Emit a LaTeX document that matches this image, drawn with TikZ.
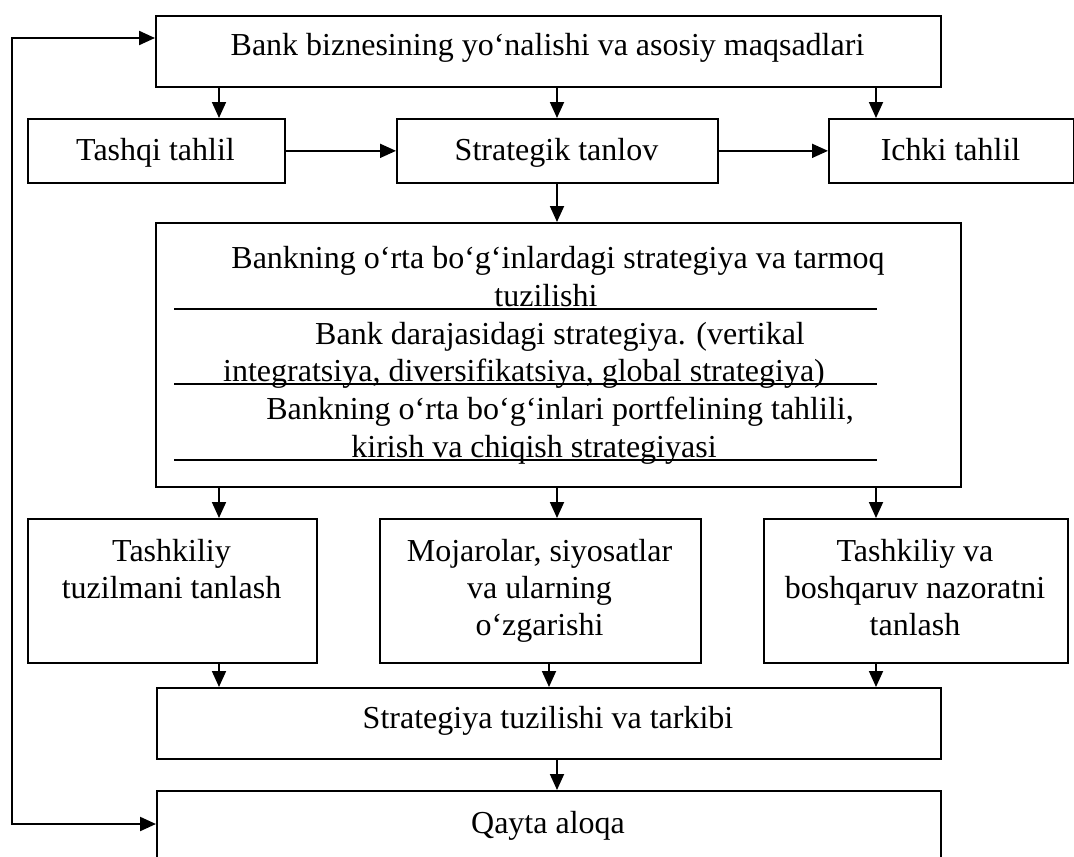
\documentclass[tikz,border=0pt]{standalone}
\usepackage{fontspec}
\setmainfont{Liberation Serif}
\usetikzlibrary{arrows.meta}
\begin{document}
\begin{tikzpicture}[x=1pt,y=-1pt,
  box/.style={draw, line width=1.7pt, inner sep=0pt, anchor=north west},
  arr/.style={line width=1.8pt, -{Triangle[length=16pt,width=14pt]}},
  arrboth/.style={line width=2.2pt, {Triangle[length=16pt,width=14pt]}-{Triangle[length=16pt,width=14pt]}},
  txt/.style={inner sep=0pt, anchor=base, font=\fontsize{32}{37}\selectfont},
  uline/.style={line width=1.6pt}
  ]
\useasboundingbox (0,0) rectangle (1074,857);
% boxes
\node[box, minimum width=785pt, minimum height=71pt] (top) at (155,15) {};
\node[box, minimum width=257pt, minimum height=64pt] (tashqi) at (27,118) {};
\node[box, minimum width=321pt, minimum height=64pt] (strat) at (396,118) {};
\node[box, minimum width=245pt, minimum height=64pt] (ichki) at (828,118) {};
\node[box, minimum width=805pt, minimum height=264pt] (mid) at (155,222) {};
\node[box, minimum width=289pt, minimum height=144pt] (s1) at (27,518) {};
\node[box, minimum width=321pt, minimum height=144pt] (s2) at (379,518) {};
\node[box, minimum width=304pt, minimum height=144pt] (s3) at (763,518) {};
\node[box, minimum width=784pt, minimum height=71pt] (struct) at (156,687) {};
\node[box, minimum width=784pt, minimum height=100pt] (qayta) at (156,790) {};
% texts
\node[txt] (ttop) at (547.5,55) {Bank biznesining yo‘nalishi va asosiy maqsadlari};
\node[txt] (ttashqi) at (155.5,160) {Tashqi tahlil};
\node[txt] (tstrat) at (556.5,160) {Strategik tanlov};
\node[txt] (tichki) at (950.5,160) {Ichki tahlil};
\node[txt] (m1) at (558,268) {Bankning o‘rta bo‘g‘inlardagi strategiya va tarmoq};
\node[txt] (m2) at (546,306) {tuzilishi};
\node[txt] (m3) at (560,344) {Bank darajasidagi strategiya. (vertikal};
\node[txt] (m4) at (524,381) {integratsiya, diversifikatsiya, global strategiya)};
\node[txt] (m5) at (560,419) {Bankning o‘rta bo‘g‘inlari portfelining tahlili,};
\node[txt] (m6) at (534,457) {kirish va chiqish strategiyasi};
\draw[uline] (174,309) -- (877,309);
\draw[uline] (174,384) -- (877,384);
\draw[uline] (174,460) -- (877,460);
\node[txt] (s1a) at (171.5,561) {Tashkiliy};
\node[txt] (s1b) at (171.5,598) {tuzilmani tanlash};
\node[txt] (s2a) at (539.5,561) {Mojarolar, siyosatlar};
\node[txt] (s2b) at (539.5,598) {va ularning};
\node[txt] (s2c) at (539.5,635) {o‘zgarishi};
\node[txt] (s3a) at (915,561) {Tashkiliy va};
\node[txt] (s3b) at (915,598) {boshqaruv nazoratni};
\node[txt] (s3c) at (915,635) {tanlash};
\node[txt] (tstruct) at (548,728) {Strategiya tuzilishi va tarkibi};
\node[txt] (tqayta) at (548,833) {Qayta aloqa};
% connector x positions
\coordinate (xa) at (219,0);
\coordinate (xb) at (557,0);
\coordinate (xc) at (876,0);
\coordinate (xm) at (549,0);
\coordinate (fbtop) at (12,38);
\coordinate (fbbot) at (12,824);
% connectors
\draw[arr] (top.south -| xa) -- (tashqi.north -| xa);
\draw[arr] (top.south -| xb) -- (strat.north -| xb);
\draw[arr] (top.south -| xc) -- (ichki.north -| xc);
\draw[arr] (tashqi.east) -- (strat.west);
\draw[arr] (strat.east) -- (ichki.west);
\draw[arr] (strat.south -| xb) -- (mid.north -| xb);
\draw[arr] (mid.south -| xa) -- (s1.north -| xa);
\draw[arr] (mid.south -| xb) -- (s2.north -| xb);
\draw[arr] (mid.south -| xc) -- (s3.north -| xc);
\draw[arr] (s1.south -| xa) -- (struct.north -| xa);
\draw[arr] (s2.south -| xm) -- (struct.north -| xm);
\draw[arr] (s3.south -| xc) -- (struct.north -| xc);
\draw[arr] (struct.south -| xb) -- (qayta.north -| xb);
\draw[arrboth] (top.west |- fbtop) -- (fbtop) -- (fbbot) -- (qayta.west |- fbbot);
\end{tikzpicture}
\end{document}
